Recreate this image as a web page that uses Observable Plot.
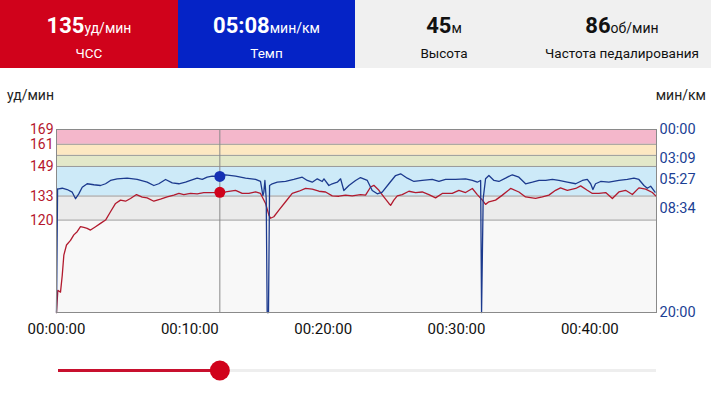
<!DOCTYPE html>
<html>
<head>
<meta charset="utf-8">
<script src="https://cdn.jsdelivr.net/npm/d3@7"></script>
<script src="https://cdn.jsdelivr.net/npm/@observablehq/plot@0.6"></script>
<style>
  html, body { margin: 0; padding: 0; background: #fff; }
  #root { position: relative; width: 711px; height: 400px; overflow: hidden; font-family: Roboto, "Noto Sans", sans-serif; }
  #header { position: absolute; left: 0; top: 0; width: 711px; height: 68px; }
  .cell { position: absolute; top: 0; height: 68px; }
  .val { position: absolute; top: 12px; left: 0; width: 100%; text-align: center; line-height: 28px; font-size: 22px; font-weight: 700; white-space: nowrap; }
  .val span { font-size: 14px; font-weight: 400; }
  .lab { position: absolute; top: 45px; left: 0; width: 100%; text-align: center; line-height: 16px; font-size: 13.5px; white-space: nowrap; }
  .unit { position: absolute; font-size: 14px; line-height: 16px; color: #222; }
  #chart { position: absolute; left: 0; top: 80px; }
  #slider { position: absolute; left: 0; top: 355px; }
</style>
</head>
<body>
<div id="root">
  <div id="header"></div>
  <div class="unit" style="left:7px; top:87px;">уд/мин</div>
  <div class="unit" style="right:5px; top:87px;">мин/км</div>
  <div id="chart"></div>
  <div id="slider"></div>
</div>
<script>
// ---- header values ----
const headerValues = ["135", "05:08", "45", "86"];
const headerUnits = ["уд/мин", "мин/км", "м", "об/мин"];
const headerLabels = ["ЧСС", "Темп", "Высота", "Частота педалирования"];

// ---- scales / ticks ----
const timeMax = 45;                 // minutes
const hrDomain = [70, 169];
const paceMax = 20;                 // min/km at bottom
const zoneBounds = [70, 120, 133, 149, 155, 161, 169];
const hrTicks = [120, 133, 149, 161, 169];
const paceTickLabels = ["00:00", "03:09", "05:27", "08:34", "20:00"];
const timeTicks = [0, 10, 20, 30, 40];
const cursorTime = 12.25;

// ---- heart rate series (minutes, bpm) ----
const hrTime = [0,0.1,0.3,0.43,0.55,0.75,1.05,1.3,1.55,1.8,2.05,2.3,2.55,2.93,3.3,3.68,4.05,4.43,4.8,5.18,5.55,6.0,6.43,6.8,7.3,7.8,8.3,8.8,9.18,9.55,10.05,10.55,11.05,11.55,12.25,12.68,13.43,13.93,14.43,14.93,15.3,15.68,15.93,16.05,16.3,16.68,17.18,17.68,18.18,18.68,19.18,19.68,20.18,20.68,21.18,21.68,22.18,22.8,23.18,23.56,23.8,24.18,24.55,24.93,25.06,25.3,25.56,25.93,26.43,26.93,27.43,27.93,28.43,28.93,29.68,30.18,30.68,31.19,31.56,31.94,32.18,32.43,32.93,33.44,34.06,34.68,35.18,35.93,36.44,36.93,37.43,37.8,38.31,38.94,39.31,39.81,40.19,40.68,41.19,41.69,42.18,42.68,43.19,43.68,44.19,44.69,44.94];
const hrValues = [70,82,81,90,101,106.5,109,112,113.7,116.4,116,115.5,114.6,116.4,118.2,120,124.5,129,130.8,130.2,131.7,133.8,132.4,132,130.2,131.3,132.5,133.5,134.4,133.8,134.4,134.2,134.9,134.9,135,135.2,136.1,134.4,134.4,135.2,134.4,129,122.7,121,121.8,125.4,129.9,134.4,135.6,137.1,136.7,135.6,135.2,133.1,132.9,133.5,133.1,133.8,133.5,137.9,138.8,136.1,132.5,129,128,130.8,133.1,133.8,135.6,134.9,135.2,133.8,132,134.4,134.4,136.1,134.9,137.1,133.8,130.8,128.5,129.9,130.8,133.5,137.1,135.2,132.5,131.7,132.5,133.5,136.1,137.4,136.1,137.1,138.5,136.1,134.4,134.4,134.9,131.7,135.2,136.1,133.8,137.4,136.7,134.9,133.1];

// ---- pace series (minutes, min/km) ----
const paceTime = [0,0.08,0.17,0.43,0.8,1.18,1.43,1.67,1.93,2.3,2.8,3.3,3.68,4.05,4.55,5.3,6.05,6.8,7.3,7.67,8.18,8.68,9.18,9.68,10.05,10.55,10.93,11.3,11.68,12.25,12.68,13.43,14.18,14.93,15.3,15.48,15.55,15.63,15.73,15.8,15.9,15.98,16.18,16.56,17.18,17.8,18.43,18.81,19.18,19.56,19.93,20.06,20.43,20.68,21.06,21.31,21.55,21.93,22.43,22.8,23.31,23.68,24.06,24.43,24.93,25.43,25.81,26.31,26.81,27.43,28.18,28.68,29.18,29.93,30.68,31.19,31.56,31.81,31.88,32.0,32.18,32.43,32.81,33.18,33.68,34.06,34.19,34.68,35.18,35.69,36.19,36.69,37.19,37.68,38.31,38.94,39.44,39.81,40.06,40.23,40.43,40.81,41.43,42.18,42.81,43.31,43.68,44.06,44.31,44.56,44.89];
const paceValues = [20,6.5,6.48,6.42,6.56,6.85,7.57,7.03,6.31,5.93,6.04,6.12,5.93,5.57,5.39,5.32,5.46,5.76,6.12,5.93,5.46,5.83,5.93,5.76,5.57,5.32,5.46,5.21,5.10,5.133,4.95,5.10,5.32,5.46,5.68,7.21,6.85,5.57,7.57,20,20,6.12,5.93,5.76,5.68,5.46,5.21,5.57,5.76,5.39,5.68,5.39,6.12,5.93,5.76,5.39,6.67,6.12,5.57,5.25,5.57,6.67,7.03,6.85,5.93,5.03,4.84,5.32,5.68,5.57,5.46,5.68,5.46,5.46,5.39,5.57,5.76,5.57,20,7.57,5.39,5.03,5.57,5.68,5.32,5.03,4.95,5.21,5.93,5.76,5.57,5.57,5.46,5.57,5.76,5.93,5.57,5.46,5.93,6.56,5.93,5.68,5.76,5.57,5.46,5.32,5.46,6.12,6.42,6.2,6.85];

// ---- helpers ----
const parseMMSS = s => { const [m, sec] = s.split(":").map(Number); return m + sec / 60; };
const paceToY = p => hrDomain[1] - p / paceMax * (hrDomain[1] - hrDomain[0]);

// ---- header ----
const headerBg = ["#d0021b", "#0523c6", "#f0f0f0", "#f0f0f0"];
const headerFg = ["#fff", "#fff", "#111", "#111"];
const cellLeft = [0, 178, 355, 533];
const cellWidth = [178, 177, 178, 178];
const headerEl = document.getElementById("header");
headerEl.style.background = "#f0f0f0";
headerValues.forEach((v, i) => {
  const c = document.createElement("div");
  c.className = "cell";
  c.style.left = cellLeft[i] + "px";
  c.style.width = cellWidth[i] + "px";
  c.style.background = headerBg[i];
  c.style.color = headerFg[i];
  const val = document.createElement("div");
  val.className = "val";
  val.textContent = v;
  const u = document.createElement("span");
  u.textContent = headerUnits[i];
  val.appendChild(u);
  const lab = document.createElement("div");
  lab.className = "lab";
  lab.textContent = headerLabels[i];
  c.appendChild(val);
  c.appendChild(lab);
  headerEl.appendChild(c);
});

// ---- data tables ----
const zoneColors = ["#f8f8f8", "#ebebeb", "#cdeaf8", "#e3e8c9", "#fde8c2", "#f4b7cb"];
const zones = zoneColors.map((fill, i) => ({y1: zoneBounds[i], y2: zoneBounds[i + 1], fill}));
const hrData = hrTime.map((t, i) => ({t, v: hrValues[i]}));
const paceData = paceTime.map((t, i) => ({t, v: paceToY(paceValues[i])}));
const paceTickVals = paceTickLabels.map(s => paceToY(parseMMSS(s)));
const paceLabelMap = new Map(paceTickVals.map((v, i) => [v, paceTickLabels[i]]));
const curHr = +headerValues[0];
const curPace = parseMMSS(headerValues[1]);

const chart = Plot.plot({
  width: 711,
  height: 270,
  marginTop: 49,
  marginBottom: 38,
  marginLeft: 56,
  marginRight: 55,
  x: {domain: [0, timeMax]},
  y: {domain: hrDomain},
  color: {type: "identity"},
  style: {fontFamily: "Roboto, 'Noto Sans', sans-serif", background: "transparent"},
  marks: [
    Plot.rect(zones, {x1: 0, x2: timeMax, y1: "y1", y2: "y2", fill: "fill"}),
    Plot.ruleY(zoneBounds.slice(1, -1), {stroke: "#9a9a9a", strokeWidth: 1}),
    Plot.ruleX([cursorTime], {stroke: "#8a8a8a", strokeWidth: 1}),
    Plot.line(hrData, {x: "t", y: "v", stroke: "#b21a2e", strokeWidth: 1.3}),
    Plot.line(paceData, {x: "t", y: "v", stroke: "#1c3a8e", strokeWidth: 1.3}),
    Plot.frame({stroke: "#8a8a8a"}),
    Plot.dot([{t: cursorTime, v: paceToY(curPace)}], {x: "t", y: "v", r: 5.5, fill: "#1530b4"}),
    Plot.dot([{t: cursorTime, v: curHr}], {x: "t", y: "v", r: 5.5, fill: "#d0021b"}),
    Plot.axisY({ticks: hrTicks, anchor: "left", tickSize: 0, tickPadding: 3, fontSize: 14, color: "#b5162c", label: null}),
    Plot.axisY({ticks: paceTickVals, anchor: "right", tickSize: 0, tickPadding: 3, fontSize: 14.5, color: "#1c3f94", label: null,
      tickFormat: d => paceLabelMap.get(d)}),
    Plot.axisX({ticks: timeTicks, tickSize: 0, tickPadding: 11, fontSize: 15, color: "#111", label: null,
      tickFormat: d => "00:" + String(d).padStart(2, "0") + ":00"})
  ]
});
document.getElementById("chart").appendChild(chart);

const slider = Plot.plot({
  width: 711,
  height: 30,
  marginTop: 0,
  marginBottom: 0,
  marginLeft: 56,
  marginRight: 55,
  x: {domain: [0, timeMax], axis: null},
  y: {domain: [0, 1], axis: null},
  style: {background: "transparent"},
  marks: [
    Plot.ruleY([0.5], {x1: 0.15, x2: timeMax, stroke: "#eeeeee", strokeWidth: 3}),
    Plot.ruleY([0.5], {x1: 0.15, x2: cursorTime, stroke: "#c8102e", strokeWidth: 3}),
    Plot.dot([cursorTime], {x: d => d, y: 0.5, r: 10, fill: "#d0021b"})
  ]
});
document.getElementById("slider").appendChild(slider);
</script>
</body>
</html>
